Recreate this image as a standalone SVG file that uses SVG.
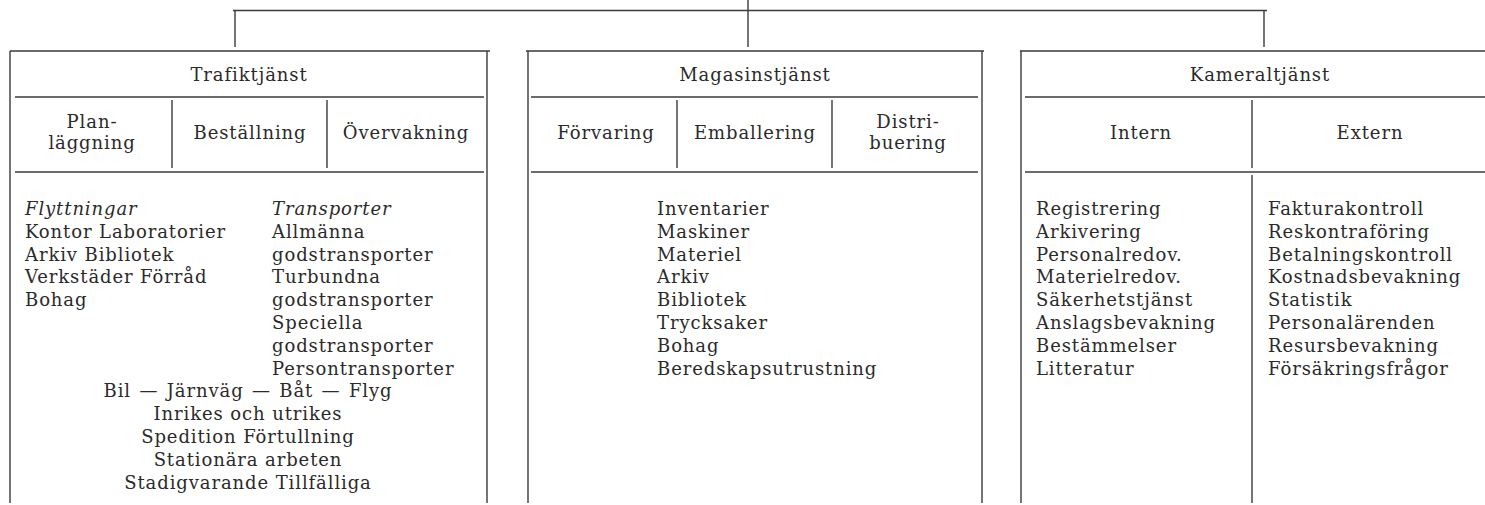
<svg xmlns="http://www.w3.org/2000/svg" width="1485" height="505" viewBox="0 0 1485 505">
<style>
.ln{stroke:#3a3a3a;stroke-width:1.4;fill:none}
text{font-family:"DejaVu Serif","Liberation Serif",serif;font-size:18px;letter-spacing:0.9px;fill:#2a2a2a}
.c{text-anchor:middle}
.i{font-style:italic}
</style>
<rect x="0" y="0" width="1485" height="505" fill="#ffffff"/>
<g id="connectors" class="ln">
<line x1="748" y1="0" x2="748" y2="10.5"/>
<line x1="233" y1="10.5" x2="1267" y2="10.5"/>
<line x1="235" y1="10.5" x2="235" y2="47"/>
<line x1="748" y1="10.5" x2="748" y2="47"/>
<line x1="1264" y1="10.5" x2="1264" y2="47"/>
</g>
<g id="trafiktjanst">
<g class="ln">
<line x1="10" y1="51" x2="490" y2="51"/>
<line x1="10" y1="51" x2="10" y2="503"/>
<line x1="487" y1="51" x2="487" y2="503"/>
<line x1="15" y1="97" x2="484" y2="97"/>
<line x1="15" y1="172" x2="484" y2="172"/>
<line x1="172" y1="100" x2="172" y2="168"/>
<line x1="327" y1="100" x2="327" y2="168"/>
</g>
<text class="c" x="249" y="81">Trafiktjänst</text>
<text class="c" x="92" y="128">Plan-</text>
<text class="c" x="92" y="149">läggning</text>
<text class="c" x="250" y="139">Beställning</text>
<text class="c" x="406" y="139">Övervakning</text>
<text x="25" y="215" class="i">Flyttningar</text>
<text x="25" y="237.8">Kontor Laboratorier</text>
<text x="25" y="260.6">Arkiv Bibliotek</text>
<text x="25" y="283.4">Verkstäder Förråd</text>
<text x="25" y="306.2">Bohag</text>
<text x="272" y="215" class="i">Transporter</text>
<text x="272" y="237.8">Allmänna</text>
<text x="272" y="260.6">godstransporter</text>
<text x="272" y="283.4">Turbundna</text>
<text x="272" y="306.2">godstransporter</text>
<text x="272" y="329">Speciella</text>
<text x="272" y="351.8">godstransporter</text>
<text x="272" y="374.6">Persontransporter</text>
<text class="c" x="248" y="397.4" word-spacing="1.8">Bil — Järnväg — Båt — Flyg</text>
<text class="c" x="248" y="420.2">Inrikes och utrikes</text>
<text class="c" x="248" y="443">Spedition Förtullning</text>
<text class="c" x="248" y="465.8">Stationära arbeten</text>
<text class="c" x="248" y="488.6">Stadigvarande Tillfälliga</text>
</g>
<g id="magasinstjanst">
<g class="ln">
<line x1="526" y1="51" x2="984" y2="51"/>
<line x1="528" y1="51" x2="528" y2="503"/>
<line x1="982" y1="51" x2="982" y2="503"/>
<line x1="531" y1="97" x2="978" y2="97"/>
<line x1="531" y1="172" x2="978" y2="172"/>
<line x1="677" y1="100" x2="677" y2="168"/>
<line x1="832" y1="100" x2="832" y2="168"/>
</g>
<text class="c" x="755" y="81">Magasinstjänst</text>
<text class="c" x="606" y="139">Förvaring</text>
<text class="c" x="755" y="139">Emballering</text>
<text class="c" x="908" y="128">Distri-</text>
<text class="c" x="908" y="149">buering</text>
<text x="657" y="215">Inventarier</text>
<text x="657" y="237.8">Maskiner</text>
<text x="657" y="260.6">Materiel</text>
<text x="657" y="283.4">Arkiv</text>
<text x="657" y="306.2">Bibliotek</text>
<text x="657" y="329">Trycksaker</text>
<text x="657" y="351.8">Bohag</text>
<text x="657" y="374.6">Beredskapsutrustning</text>
</g>
<g id="kameraltjanst">
<g class="ln">
<line x1="1020" y1="51" x2="1485" y2="51"/>
<line x1="1021" y1="51" x2="1021" y2="503"/>
<line x1="1025" y1="97" x2="1485" y2="97"/>
<line x1="1025" y1="172" x2="1485" y2="172"/>
<line x1="1252" y1="100" x2="1252" y2="168"/>
<line x1="1252" y1="175" x2="1252" y2="503"/>
</g>
<text class="c" x="1260" y="81">Kameraltjänst</text>
<text class="c" x="1141" y="139">Intern</text>
<text class="c" x="1370" y="139">Extern</text>
<text x="1036" y="215">Registrering</text>
<text x="1036" y="237.8">Arkivering</text>
<text x="1036" y="260.6">Personalredov.</text>
<text x="1036" y="283.4">Materielredov.</text>
<text x="1036" y="306.2">Säkerhetstjänst</text>
<text x="1036" y="329">Anslagsbevakning</text>
<text x="1036" y="351.8">Bestämmelser</text>
<text x="1036" y="374.6">Litteratur</text>
<text x="1268" y="215">Fakturakontroll</text>
<text x="1268" y="237.8">Reskontraföring</text>
<text x="1268" y="260.6">Betalningskontroll</text>
<text x="1268" y="283.4">Kostnadsbevakning</text>
<text x="1268" y="306.2">Statistik</text>
<text x="1268" y="329">Personalärenden</text>
<text x="1268" y="351.8">Resursbevakning</text>
<text x="1268" y="374.6">Försäkringsfrågor</text>
</g>
</svg>
